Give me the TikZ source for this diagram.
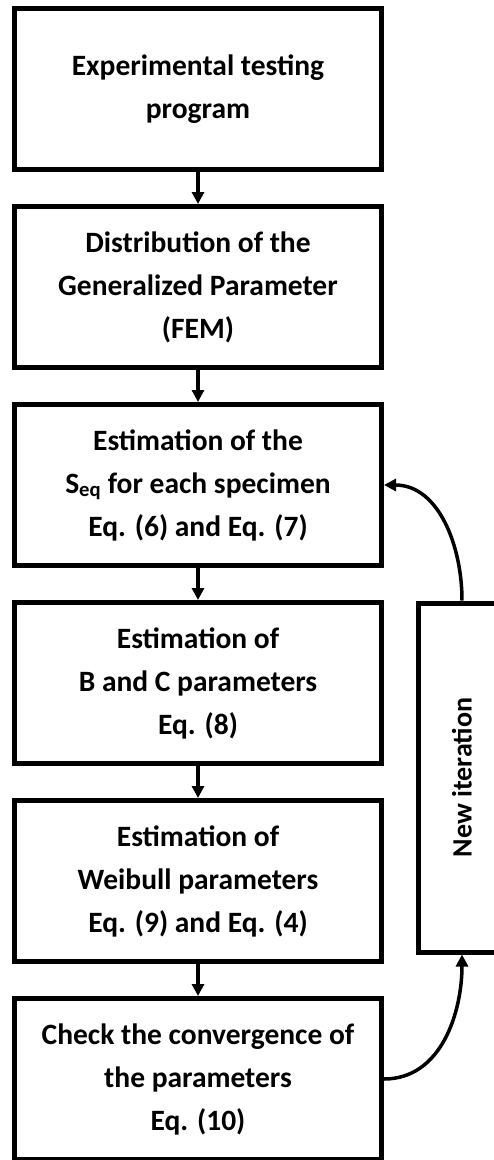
\documentclass[tikz,border=0pt]{standalone}
\usepackage{fontspec}
\setmainfont{Carlito}
\usetikzlibrary{positioning,arrows.meta}

\tikzset{
    stepbox/.style={draw, line width=5pt, minimum width=367pt, minimum height=161pt,
        inner sep=0pt, align=center, font=\bfseries\fontsize{29.5}{43}\selectfont},
    loopbox/.style={draw, line width=5pt, minimum width=88pt, minimum height=349pt,
        inner sep=0pt, font=\bfseries\fontsize{28}{43}\selectfont},
    flow/.style={-{Triangle[width=12pt,length=12pt]}, line width=3.5pt},
}

\begin{document}
\begin{tikzpicture}[x=1pt, y=-1pt, node distance=32pt]
        \clip (0,0) rectangle (494,1160);

        % main chain
        \node[stepbox] (exp) at (198,89) {Experimental testing\\program};
        \node[stepbox, below=of exp] (fem) {Distribution of the\\Generalized Parameter\\(FEM)};
        \node[stepbox, below=of fem] (seq) {Estimation of the\\S\textsubscript{eq} for each specimen\\Eq. (6) and Eq. (7)};
        \node[stepbox, below=of seq] (bc) {Estimation of\\B and C parameters\\Eq. (8)};
        \node[stepbox, below=of bc] (weib) {Estimation of\\Weibull parameters\\Eq. (9) and Eq. (4)};
        \node[stepbox, below=of weib] (check) {Check the convergence of\\the parameters\\Eq. (10)};

        % loop back
        \node[loopbox] (newit) at (462,777.5) {\rotatebox{90}{New iteration}};

        \draw[flow] (exp) -- (fem);
        \draw[flow] (fem) -- (seq);
        \draw[flow] (seq) -- (bc);
        \draw[flow] (bc) -- (weib);
        \draw[flow] (weib) -- (check);

        \draw[flow] (check.east) to[out=0, in=-90] (newit.south);
        \draw[flow] (newit.north) to[out=90, in=0] (seq.east);
    \end{tikzpicture}
\end{document}
